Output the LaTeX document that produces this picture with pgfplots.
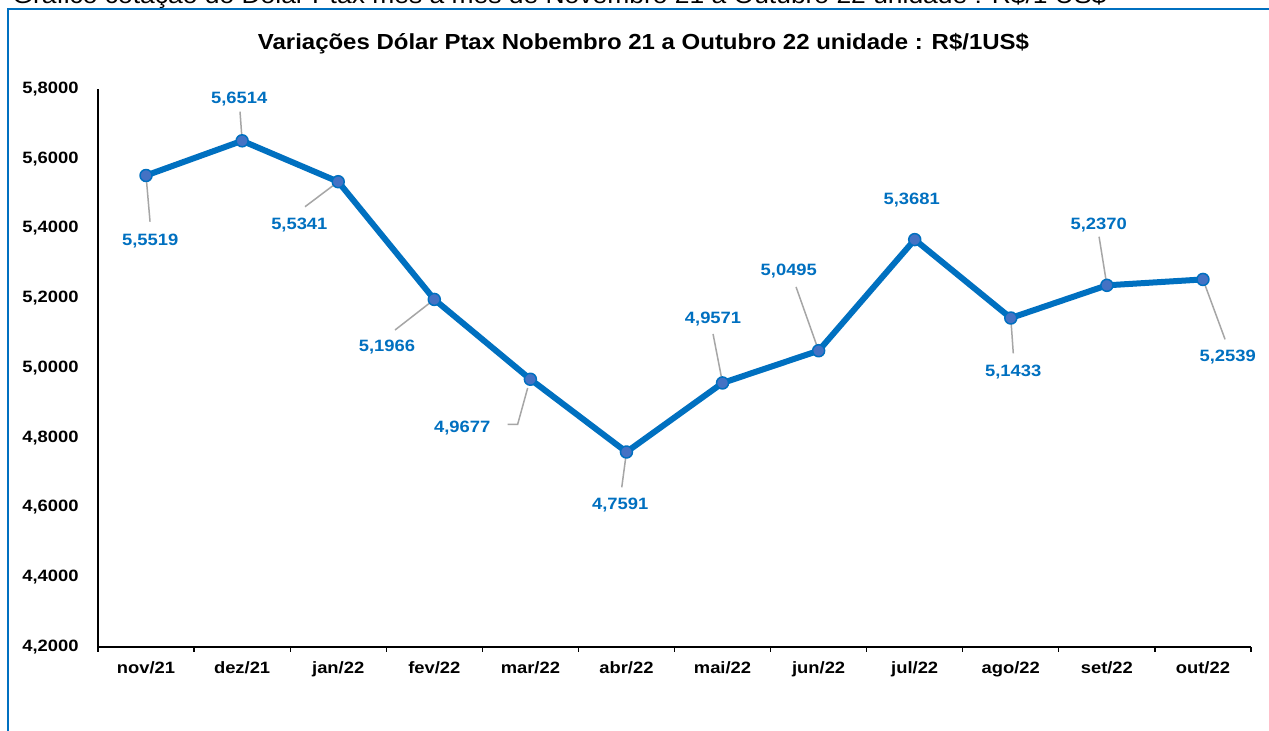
\documentclass[border=0pt]{standalone}
\usepackage{fontspec}
\setmainfont{Liberation Sans}
\usepackage{pgfplots}
\pgfplotsset{compat=1.18}

\definecolor{linecol}{RGB}{0,112,192}
\definecolor{markfill}{RGB}{68,114,196}
\definecolor{labcol}{RGB}{0,112,192}
\definecolor{leadcol}{RGB}{166,166,166}
\definecolor{framecol}{RGB}{0,112,192}

\tikzset{
  lbl/.style={anchor=base, inner sep=0pt, text=labcol, font=\fontsize{8.2}{9}\selectfont\bfseries, xscale=1.12},
  leader/.style={draw=leadcol, line width=0.75pt}
}

\begin{document}
\begin{tikzpicture}[x=0.5pt,y=0.5pt]
\useasboundingbox (0,0) rectangle (1269,731);
\clip (0,0) rectangle (1269,731);
\fill[white] (0,0) rectangle (1269,731);
\draw[framecol, line width=1pt] (7.5,-10) -- (7.5,721.5) -- (1280,721.5);

% caption above the frame, cut at the top
\node[anchor=base west, inner sep=0pt, font=\fontsize{11.8}{13}\selectfont, xscale=1.12] at (12,727)
  {Gráfico cotação do Dólar Ptax mês a mês de Novembro 21 a Outubro 22 unidade : R\$/1 US\$};
\node[anchor=base, inner sep=0pt, font=\fontsize{10.9}{12}\selectfont\bfseries, xscale=1.1] at (643.5,681)
  {Variações Dólar Ptax Nobembro 21 a Outubro 22 unidade : R\$/1US\$};

\begin{axis}[
  at={(49pt,42pt)}, anchor=south west,
  scale only axis, width=576.5pt, height=279pt,
  xmin=-0.5, xmax=11.5, ymin=4.2, ymax=5.8,
  axis lines=left, axis line style={-, black},
  x axis line style={line width=1pt},
  y axis line style={line width=0.6pt},
  xtick={0,...,11},
  xticklabels={nov/21,dez/21,jan/22,fev/22,mar/22,abr/22,mai/22,jun/22,jul/22,ago/22,set/22,out/22},
  minor xtick={-0.5,0.5,...,11.5},
  ytick={4.2,4.4,4.6,4.8,5.0,5.2,5.4,5.6,5.8},
  tick align=outside, major tick length=0pt, minor tick length=2.5pt,
  minor tick style={black, line width=0.6pt},
  yticklabel style={/pgf/number format/fixed, /pgf/number format/fixed zerofill,
    /pgf/number format/precision=4, /pgf/number format/use comma,
    /pgf/number format/assume math mode=true,
    font=\fontsize{8.2}{9}\selectfont\bfseries, xscale=1.12, inner sep=0pt, xshift=-8.5pt},
  xticklabel style={font=\fontsize{8.2}{9}\selectfont\bfseries, xscale=1.12, inner sep=0pt, yshift=-7pt},
  clip=false,
]
\addplot[linecol, line width=3pt, line join=round, mark=*, mark size=3pt,
  mark options={fill=markfill, draw=linecol, line width=0.75pt}] coordinates {
  (0,5.5519) (1,5.6514) (2,5.5341) (3,5.1966) (4,4.9677) (5,4.7591)
  (6,4.9571) (7,5.0495) (8,5.3681) (9,5.1433) (10,5.2370) (11,5.2539)
};

% leader lines
\draw[leader] (axis cs:0,5.5519) -- ++(2pt,-23.1pt);
\draw[leader] (axis cs:1,5.6514) -- ++(-1.05pt,14.55pt);
\draw[leader] (axis cs:2,5.5341) -- ++(-16.6pt,-12.5pt);
\draw[leader] (axis cs:3,5.1966) -- ++(-19.65pt,-15.3pt);
\draw[leader] (axis cs:4,4.9677) ++(-1.35pt,-4.35pt) -- ++(-5pt,-18.15pt) -- ++(-5pt,0pt);
\draw[leader] (axis cs:5,4.7591) -- ++(-2.35pt,-17.65pt);
\draw[leader] (axis cs:6,4.9571) -- ++(-4.75pt,24.5pt);
\draw[leader] (axis cs:7,5.0495) -- ++(-11.3pt,31.9pt);
\draw[leader] (axis cs:9,5.1433) -- ++(1.25pt,-17.65pt);
\draw[leader] (axis cs:10,5.2370) -- ++(-3.9pt,24.3pt);
\draw[leader] (axis cs:11,5.2539) -- ++(11.05pt,-29.95pt);

% data labels
\node[lbl, shift={(1.85pt,-34.75pt)}] at (axis cs:0,5.5519) {5,5519};
\node[lbl, shift={(-1.3pt,18.75pt)}] at (axis cs:1,5.6514) {5,6514};
\node[lbl, shift={(-17.35pt,-23.8pt)}] at (axis cs:2,5.5341) {5,5341};
\node[lbl, shift={(-21.15pt,-26.05pt)}] at (axis cs:3,5.1966) {5,1966};
\node[lbl, shift={(-30.45pt,-26.7pt)}] at (axis cs:4,4.9677) {4,9677};
\node[lbl, shift={(-2.8pt,-28.65pt)}] at (axis cs:5,4.7591) {4,7591};
\node[lbl, shift={(-4.25pt,29.75pt)}] at (axis cs:6,4.9571) {4,9571};
\node[lbl, shift={(-13.3pt,37.65pt)}] at (axis cs:7,5.0495) {5,0495};
\node[lbl, shift={(-1.35pt,17.55pt)}] at (axis cs:8,5.3681) {5,3681};
\node[lbl, shift={(1.1pt,-29.25pt)}] at (axis cs:9,5.1433) {5,1433};
\node[lbl, shift={(-3.65pt,28pt)}] at (axis cs:10,5.2370) {5,2370};
\node[lbl, shift={(11.05pt,-41.15pt)}] at (axis cs:11,5.2539) {5,2539};
\end{axis}
\end{tikzpicture}
\end{document}
